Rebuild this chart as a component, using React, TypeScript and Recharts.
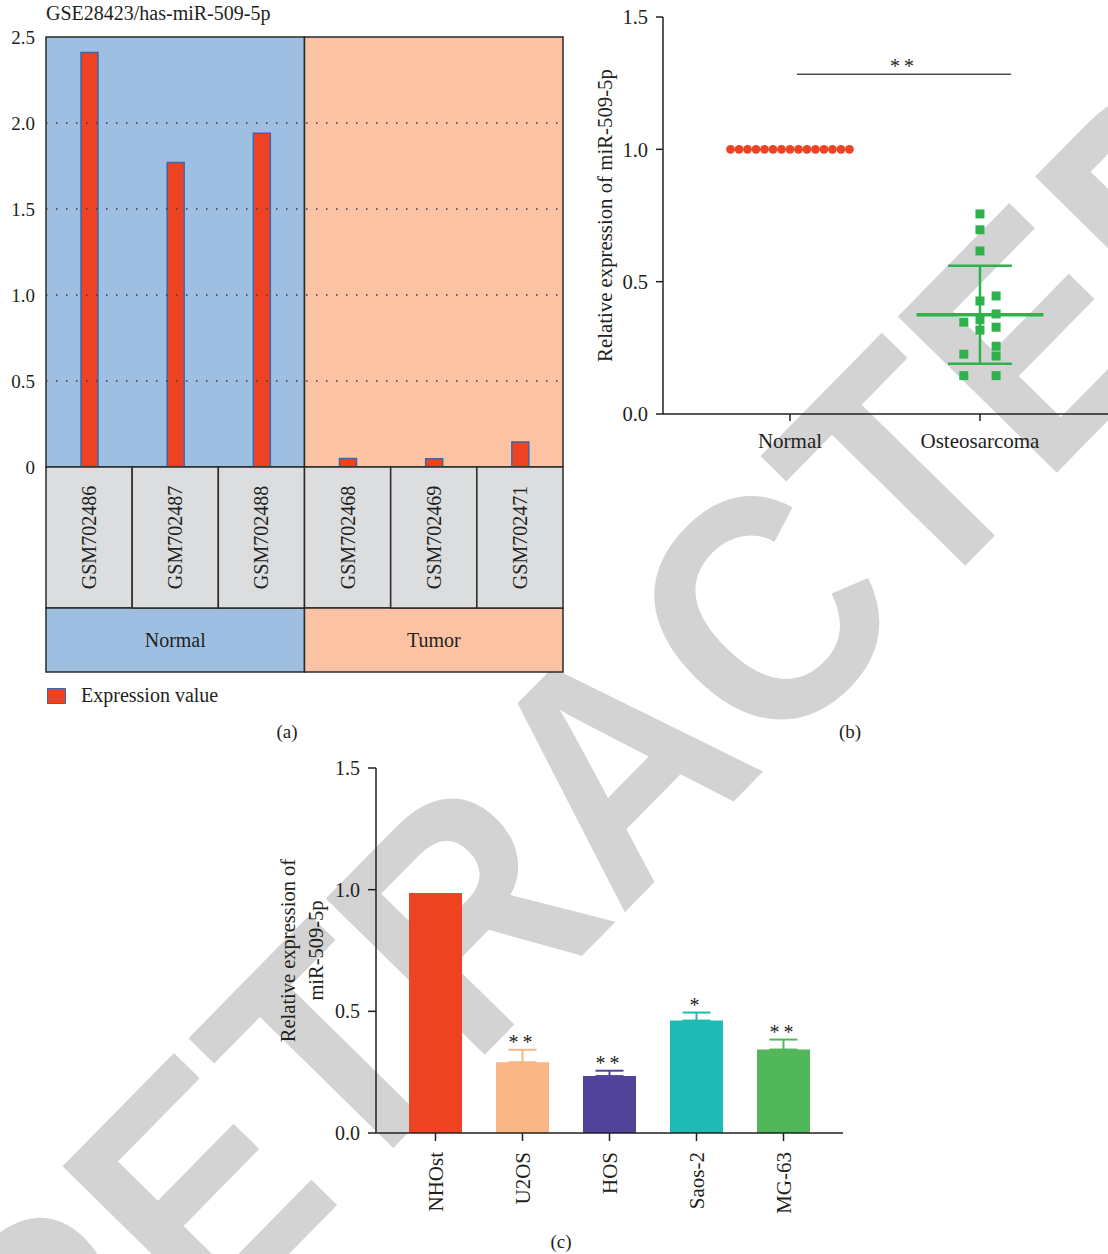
import React from "react";
import {
  BarChart, Bar, XAxis, YAxis, ReferenceArea, ReferenceLine, ReferenceDot,
  Legend, ScatterChart, Scatter, ErrorBar,
} from "recharts";

const SERIF = '"Liberation Serif", "Times New Roman", serif';
const INK = "#231f20";
const RED = "#ee4323";
const GREEN = "#2fb24c";

// (a) GSE28423 microarray
const SAMPLES = ["GSM702486", "GSM702487", "GSM702488", "GSM702468", "GSM702469", "GSM702471"];
const EXPRESSION = [2.41, 1.77, 1.94, 0.05, 0.048, 0.145];
const GROUPS = ["Normal", "Normal", "Normal", "Tumor", "Tumor", "Tumor"];
const A_TICKS = [0, 0.5, 1, 1.5, 2, 2.5];
const A_DOTTED = [0.5, 1, 1.5, 2];

// (b) tissue samples
const B_GROUPS = ["Normal", "Osteosarcoma"];
const NORMAL_VALUES = [1, 1, 1, 1, 1, 1, 1, 1, 1, 1, 1, 1, 1, 1, 1];
const OS_VALUES = [0.756, 0.696, 0.616, 0.446, 0.427, 0.378, 0.347, 0.356, 0.328, 0.317, 0.256, 0.226, 0.219, 0.145, 0.145];
const OS_COLUMN = [0, 0, 0, 1, 0, 1, -1, 0, 1, 0, 1, -1, 1, -1, 1];
const OS_MEAN = 0.375;
const OS_SD = 0.185;
const B_TICKS = [0, 0.5, 1, 1.5];

// (c) cell lines
const CELL_LINES = ["NHOst", "U2OS", "HOS", "Saos-2", "MG-63"];
const CELL_VALUES = [0.986, 0.291, 0.234, 0.462, 0.343];
const CELL_ERRORS = [0, 0.051, 0.022, 0.033, 0.041];
const CELL_SIG = ["", "**", "**", "*", "**"];
const CELL_COLORS = ["#ee4323", "#f8b784", "#51439a", "#1fbab3", "#50b85a"];
const C_TICKS = [0, 0.5, 1, 1.5];

const GROUP_FILL: Record<string, string> = { Normal: "#9ebfe2", Tumor: "#fbc3a4" };

const aData = SAMPLES.map((s, i) => ({ sample: s, value: EXPRESSION[i] }));
const normalPts = NORMAL_VALUES.map((v, i) => ({ x: 1 + (i - 7) * 0.0447, y: v }));
const osPts = OS_VALUES.map((v, i) => ({ x: 2 + OS_COLUMN[i] * 0.085, y: v }));
const cData = CELL_LINES.map((name, i) => {
  const row: any = { name };
  row[name] = CELL_VALUES[i];
  if (CELL_ERRORS[i] > 0) row[name + "_err"] = [0, CELL_ERRORS[i]];
  return row;
});

const A_W = 580, A_H = 710;
const A_MARGIN = { top: 37, right: 17, bottom: 38, left: 0 };
const A_BAND = (A_W - A_MARGIN.right - A_MARGIN.left - 46) / SAMPLES.length;

function SampleTick(props: any) {
  const { x, y, index, payload } = props;
  const left = x - A_BAND / 2;
  const group = GROUPS[index];
  const first = index === 0 || GROUPS[index - 1] !== group;
  const span = GROUPS.filter((g) => g === group).length;
  const cy = y + 70.5;
  return (
    <g>
      <rect x={left} y={y} width={A_BAND} height={141} fill="#dcdddf" stroke="#2b2b2b" strokeWidth={1.5} />
      <text x={x} y={cy} transform={`rotate(-90 ${x} ${cy})`} textAnchor="middle" dy="0.35em"
        fill={INK} fontSize={20} fontFamily={SERIF}>{payload.value}</text>
      {first && (
        <g>
          <rect x={left} y={y + 141} width={A_BAND * span} height={64} fill={GROUP_FILL[group]} stroke="#2b2b2b" strokeWidth={1.5} />
          <text x={left + (A_BAND * span) / 2} y={y + 173} textAnchor="middle" dy="0.35em"
            fill={INK} fontSize={20} fontFamily={SERIF}>{group}</text>
        </g>
      )}
    </g>
  );
}

function CellTick(props: any) {
  const { x, y, payload } = props;
  return (
    <text x={x} y={y} transform={`rotate(-90 ${x} ${y})`} textAnchor="end" dy="0.35em"
      fill={INK} fontSize={21} fontFamily={SERIF}>{payload.value}</text>
  );
}

const yLabel = (lines: string[], dxs: number[], fontSize: number) => (props: any) => {
  const vb = props.viewBox || { x: 0, y: 0, height: 0 };
  const cy = vb.y + vb.height / 2;
  return (
    <g>
      {lines.map((t, i) => {
        const cx = vb.x + dxs[i];
        return (
          <text key={i} x={cx} y={cy} transform={`rotate(-90 ${cx} ${cy})`} textAnchor="middle"
            dy="0.35em" fill={INK} fontSize={fontSize} fontFamily={SERIF}>{t}</text>
        );
      })}
    </g>
  );
};

const starLabel = (value: string) => ({
  value, position: "top" as const, offset: 1, fill: INK, fontSize: 20, fontFamily: SERIF, letterSpacing: 4,
});

const caption = (text: string, x: number, y: number) => (
  <div style={{ position: "absolute", left: x, top: y, transform: "translateX(-50%)", fontSize: 19, color: INK, fontFamily: SERIF }}>
    {text}
  </div>
);

export default function App() {
  return (
    <div style={{ position: "absolute", left: 0, top: 0, width: 1108, height: 1254, background: "#fff", overflow: "hidden", fontFamily: SERIF }}>
      <svg width={1108} height={1254} style={{ position: "absolute", left: 0, top: 0 }}>
        <text x={0} y={0} transform="translate(59 1488) rotate(-45.5) scale(0.907 1)"
          fontFamily='"Liberation Sans", Arial, sans-serif' fontWeight="bold" fontSize={324} fill="#d3d3d3">RETRACTED</text>
      </svg>

      {/* (a) */}
      <div style={{ position: "absolute", left: 46, top: 2, fontSize: 20, color: INK }}>GSE28423/has-miR-509-5p</div>
      <div style={{ position: "absolute", left: 0, top: 0 }}>
        <BarChart width={A_W} height={A_H} data={aData} margin={A_MARGIN} barSize={17}>
          <XAxis dataKey="sample" height={205} interval={0} tickSize={0} tickMargin={0} axisLine={false} tickLine={false} tick={<SampleTick />} />
          <YAxis width={46} domain={[0, 2.5]} ticks={A_TICKS} axisLine={false} tickLine={false} tickSize={0} tickMargin={11}
            tickFormatter={(v: number) => (v === 0 ? "0" : v.toFixed(1))}
            tick={{ fill: INK, fontSize: 19, fontFamily: SERIF }} />
          <ReferenceArea x1={SAMPLES[0]} x2={SAMPLES[2]} y1={0} y2={2.5} fill={GROUP_FILL.Normal} fillOpacity={1} stroke="#2b2b2b" strokeWidth={1.5} />
          <ReferenceArea x1={SAMPLES[3]} x2={SAMPLES[5]} y1={0} y2={2.5} fill={GROUP_FILL.Tumor} fillOpacity={1} stroke="#2b2b2b" strokeWidth={1.5} />
          {A_DOTTED.map((v) => (
            <ReferenceLine key={v} y={v} stroke="#3a3a3a" strokeWidth={1.3} strokeDasharray="1.5 8.5" />
          ))}
          <Bar dataKey="value" name="Expression value" fill={RED} stroke="#3a67ad" strokeWidth={1.5} isAnimationActive={false} />
          <Legend layout="vertical" align="center" verticalAlign="middle"
            wrapperStyle={{ top: 684, left: 47, width: "auto" }}
            content={() => (
              <div style={{ display: "flex", alignItems: "center", fontFamily: SERIF, fontSize: 20, color: INK }}>
                <span style={{ display: "inline-block", width: 17, height: 14, background: RED, border: "1.5px solid #3a67ad", marginRight: 15 }} />
                Expression value
              </div>
            )} />
        </BarChart>
      </div>
      {caption("(a)", 287, 721)}

      {/* (b) */}
      <div style={{ position: "absolute", left: 560, top: 0 }}>
        <ScatterChart width={548} height={470} margin={{ top: 17, right: 0, bottom: 16, left: 43 }}>
          <XAxis dataKey="x" type="number" domain={[0.3316, 2.674]} allowDataOverflow ticks={[1, 2]} height={40}
            tickFormatter={(v: number) => B_GROUPS[v - 1]} tickSize={7} tickMargin={12}
            axisLine={{ stroke: INK, strokeWidth: 1.5 }} tickLine={{ stroke: INK, strokeWidth: 1.5 }}
            tick={{ fill: INK, fontSize: 21, fontFamily: SERIF }} />
          <YAxis dataKey="y" type="number" width={60} domain={[0, 1.5]} ticks={B_TICKS}
            tickFormatter={(v: number) => v.toFixed(1)} tickSize={7} tickMargin={8}
            axisLine={{ stroke: INK, strokeWidth: 1.5 }} tickLine={{ stroke: INK, strokeWidth: 1.5 }}
            tick={{ fill: INK, fontSize: 20.5, fontFamily: SERIF }}
            label={yLabel(["Relative expression of miR-509-5p"], [2], 20.8)} />
          <ReferenceLine segment={[{ x: 1.037, y: 1.284 }, { x: 2.163, y: 1.284 }]} stroke="#4d4d4d" strokeWidth={1.5}
            label={starLabel("**")} />
          <ReferenceLine segment={[{ x: 2, y: OS_MEAN - OS_SD }, { x: 2, y: OS_MEAN + OS_SD }]} stroke={GREEN} strokeWidth={2.5} />
          <ReferenceLine segment={[{ x: 2 - 0.168, y: OS_MEAN + OS_SD }, { x: 2 + 0.168, y: OS_MEAN + OS_SD }]} stroke={GREEN} strokeWidth={2.5} />
          <ReferenceLine segment={[{ x: 2 - 0.168, y: OS_MEAN - OS_SD }, { x: 2 + 0.168, y: OS_MEAN - OS_SD }]} stroke={GREEN} strokeWidth={2.5} />
          <ReferenceLine segment={[{ x: 2 - 0.334, y: OS_MEAN }, { x: 2 + 0.334, y: OS_MEAN }]} stroke={GREEN} strokeWidth={3.5} />
          <Scatter data={normalPts} isAnimationActive={false}
            shape={(p: any) => <circle cx={p.cx} cy={p.cy} r={4.4} fill={RED} />} />
          <Scatter data={osPts} isAnimationActive={false}
            shape={(p: any) => <rect x={p.cx - 4.5} y={p.cy - 4.5} width={9} height={9} fill={GREEN} />} />
        </ScatterChart>
      </div>
      {caption("(b)", 850, 721)}

      {/* (c) */}
      <div style={{ position: "absolute", left: 260, top: 750 }}>
        <BarChart width={600} height={504} data={cData} margin={{ top: 18, right: 17, bottom: 31, left: 60 }}
          barSize={53} barGap={-53}>
          <XAxis dataKey="name" height={90} interval={0} padding={{ left: 16, right: 16 }} tickSize={8} tickMargin={11}
            axisLine={{ stroke: INK, strokeWidth: 1.5 }} tickLine={{ stroke: INK, strokeWidth: 1.5 }} tick={<CellTick />} />
          <YAxis width={56} domain={[0, 1.5]} ticks={C_TICKS} tickFormatter={(v: number) => v.toFixed(1)}
            tickSize={8} tickMargin={8}
            axisLine={{ stroke: INK, strokeWidth: 1.5 }} tickLine={{ stroke: INK, strokeWidth: 1.5 }}
            tick={{ fill: INK, fontSize: 20, fontFamily: SERIF }}
            label={yLabel(["Relative expression of", "miR-509-5p"], [-32, -4], 20.5)} />
          {CELL_LINES.map((name, i) => (
            <Bar key={name} dataKey={name} fill={CELL_COLORS[i]} isAnimationActive={false}>
              {CELL_ERRORS[i] > 0 && (
                <ErrorBar dataKey={name + "_err"} direction="y" width={14} stroke={CELL_COLORS[i]} strokeWidth={2} isAnimationActive={false} />
              )}
            </Bar>
          ))}
          {CELL_LINES.map((name, i) =>
            CELL_SIG[i] ? (
              <ReferenceDot key={"s" + name} x={name} y={CELL_VALUES[i] + CELL_ERRORS[i]} r={0} fill="none" stroke="none"
                label={starLabel(CELL_SIG[i])} />
            ) : null
          )}
        </BarChart>
      </div>
      {caption("(c)", 561, 1231)}
    </div>
  );
}
